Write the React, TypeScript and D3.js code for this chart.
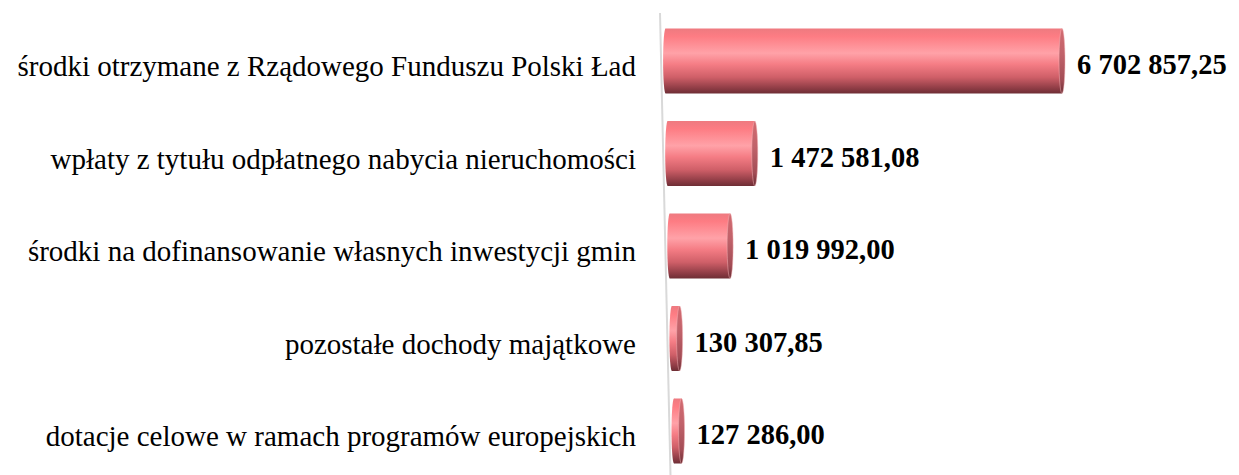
import React from "react";
import * as d3 from "d3";

const categories: string[] = [
  "środki otrzymane z Rządowego Funduszu Polski Ład",
  "wpłaty z tytułu odpłatnego nabycia nieruchomości",
  "środki na dofinansowanie własnych inwestycji gmin",
  "pozostałe dochody majątkowe",
  "dotacje celowe w ramach programów europejskich",
];
const values: number[] = [6702857.25, 1472581.08, 1019992.0, 130307.85, 127286.0];
const valueLabels: string[] = ["6 702 857,25", "1 472 581,08", "1 019 992,00", "130 307,85", "127 286,00"];

const W = 1239;
const H = 475;

export default function App() {
  const y = d3.scalePoint<string>().domain(categories).range([61, 431]);
  const x = d3.scaleLinear().domain([0, 7000000]).range([0, 414]);
  const axisTop = 13;
  const axisX = d3.scaleLinear().domain([axisTop, H]).range([660, 670.5]);
  const barH = 65;
  const rxL = 2.5;
  const rxR = 3;

  return (
    <svg
      width={W}
      height={H}
      style={{ position: "absolute", left: 0, top: 0, background: "#fff" }}
    >
      <defs>
        <linearGradient id="body" x1="0" y1="0" x2="0" y2="1">
          <stop offset="0" stopColor="#ee7a80" />
          <stop offset="0.12" stopColor="#fd7c83" />
          <stop offset="0.38" stopColor="#ffa2a8" />
          <stop offset="0.55" stopColor="#f57d85" />
          <stop offset="0.75" stopColor="#cf5f68" />
          <stop offset="0.92" stopColor="#8e3c45" />
          <stop offset="1" stopColor="#6e2e35" />
        </linearGradient>
        <linearGradient id="cap" x1="0" y1="0" x2="0" y2="1">
          <stop offset="0" stopColor="#d26a70" />
          <stop offset="0.4" stopColor="#c0626a" />
          <stop offset="0.8" stopColor="#a24c55" />
          <stop offset="1" stopColor="#6a2c33" />
        </linearGradient>
      </defs>
      <line
        x1={axisX(axisTop)}
        y1={axisTop}
        x2={axisX(H)}
        y2={H}
        stroke="#d9d9d9"
        strokeWidth={2}
      />
      {categories.map((c, i) => {
        const cy = y(c) as number;
        const L = axisX(cy) + 2;
        const len = x(values[i]);
        const xs = L + rxL;
        const xe = xs + len;
        return (
          <g key={c}>
            <ellipse cx={xs} cy={cy} rx={rxL} ry={barH / 2} fill="url(#body)" />
            <rect x={xs} y={cy - barH / 2} width={len} height={barH} fill="url(#body)" />
            <ellipse
              cx={xe}
              cy={cy}
              rx={rxR}
              ry={barH / 2}
              fill="url(#cap)"
              stroke="#f3b3b6"
              strokeWidth={0.5}
            />
            <text
              x={636}
              y={cy + 15}
              textAnchor="end"
              fontFamily="'Liberation Serif', 'Times New Roman', serif"
              fontSize={29}
              fill="#000"
            >
              {c}
            </text>
            <text
              x={xe + rxR + 12}
              y={cy + 13}
              fontFamily="'Liberation Serif', 'Times New Roman', serif"
              fontWeight="bold"
              fontSize={28.5}
              fill="#000"
            >
              {valueLabels[i]}
            </text>
          </g>
        );
      })}
    </svg>
  );
}
